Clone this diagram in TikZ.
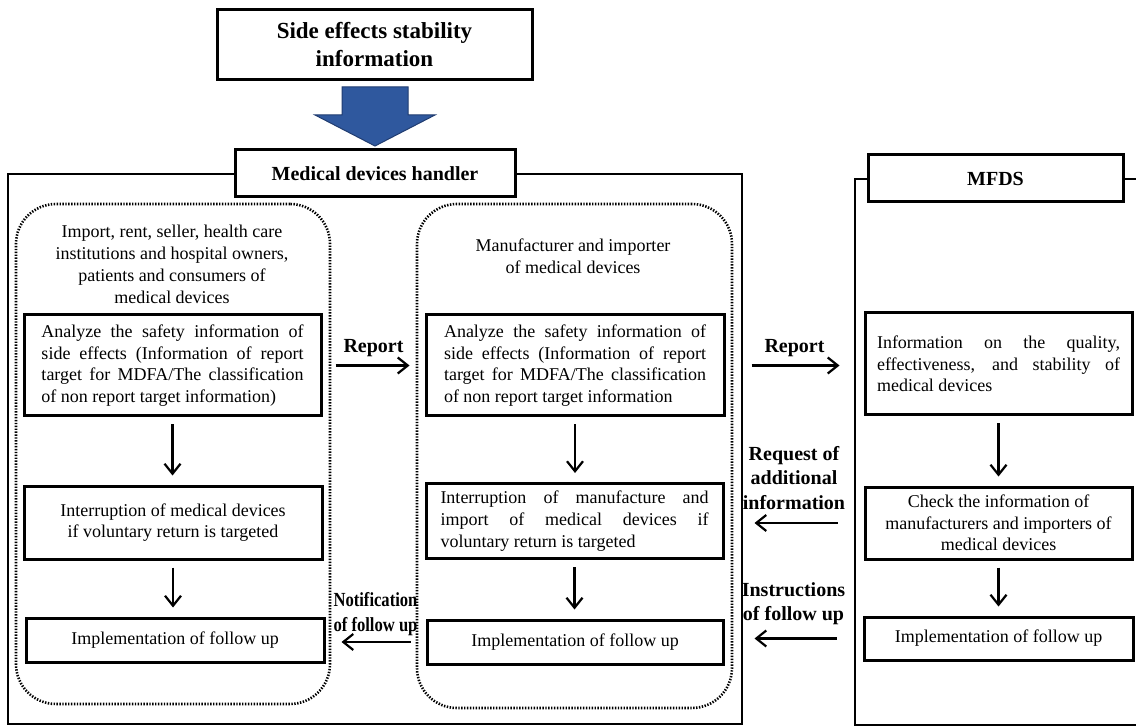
\documentclass[tikz,border=0pt]{standalone}
\usepackage{graphicx}
\usepackage{fontspec}
\setmainfont{Liberation Serif}
\usepackage{tikz}
\usetikzlibrary{arrows.meta}
\usetikzlibrary{calc}
\usetikzlibrary{positioning}
\tolerance=9999
\hyphenpenalty=10000
\exhyphenpenalty=10000
\definecolor{arrowblue}{RGB}{47,88,158}
\definecolor{arrowedge}{RGB}{32,60,112}
\tikzstyle{block} = [draw, line width=3pt, fill=white, rectangle, inner sep=0pt,
    font=\fontsize{18}{21.7}\selectfont]
\tikzstyle{jblock} = [block, align=justify, text width=268pt]
\tikzstyle{cblock} = [block, align=center]
\tikzstyle{head} = [draw, line width=3pt, fill=white, rectangle,
    font=\bfseries\fontsize{20}{24}\selectfont]
\tikzstyle{group} = [draw, line width=2.6pt, dash pattern=on 1.4pt off 1.5pt,
    rounded corners=40pt, rectangle]
\tikzstyle{plain} = [align=center, font=\fontsize{18}{22}\selectfont]
\tikzstyle{lab} = [align=center, font=\bfseries\fontsize{20}{24.5}\selectfont]
\tikzstyle{frame} = [line width=2pt]
\tikzstyle{link} = [->, line width=2.2pt]

\begin{document}
\begin{tikzpicture}[x=1pt, y=-1pt, >={Straight Barb[length=10pt,width=16pt]}]
    \useasboundingbox (0,0) rectangle (1136,727);

    \draw[frame] (8,174) rectangle (742,724);
    \draw[frame] (1146,179) -- (855,179) -- (855,725) -- (1146,725);

    \node[head, minimum width=315pt, minimum height=70pt, align=center,
        font=\bfseries\fontsize{23}{28}\selectfont] at (374.5,45) (info) {Side effects stability\\information};
    \fill[arrowblue, draw=arrowedge, line width=1pt] (342,87) -- (408,87) -- (408,115) -- (435,115)
        -- (375,146) -- (315,115) -- (342,115) -- cycle;
    \node[head, minimum width=280pt, minimum height=47pt] at (375,173.5) (handler) {Medical devices handler};
    \node[head, minimum width=255pt, minimum height=47pt] at (995.5,178.5) (mfds) {MFDS};

    \node[group, minimum width=314pt, minimum height=500pt] at (173,454) (grpuser) {};
    \node[group, minimum width=315pt, minimum height=504pt] at (574.5,456) (grpmaker) {};
    \node[plain] at (172,264) (userhead) {Import, rent, seller, health care\\institutions and hospital owners,\\patients and consumers of\\medical devices};
    \node[plain] at (573,256) (makerhead) {Manufacturer and importer\\of medical devices};

    \node[jblock, text width=262pt, minimum width=297pt, minimum height=101pt] at (172.5,365.5) (userA) {Analyze the safety information of side effects (Information of report target for MDFA/The classification of non report target information)};
    \node[cblock, minimum width=298pt, minimum height=73pt] at (173,522.5) (userB) {Interruption of medical devices\\if voluntary return is targeted};
    \node[block, minimum width=298pt, minimum height=44pt] at (175,640) (userC) {Implementation of follow up};

    \node[jblock, text width=262pt, minimum width=298pt, minimum height=101pt] at (575,365.5) (makerA) {Analyze the safety information of side effects (Information of report target for MDFA/The classification of non report target information};
    \node[jblock, minimum width=297pt, minimum height=75pt] at (574.5,521) (makerB) {Interruption of manufacture and import of medical devices if voluntary return is targeted};
    \node[block, minimum width=296pt, minimum height=44pt] at (575,642) (makerC) {Implementation of follow up};

    \node[jblock, text width=243pt, minimum width=267pt, minimum height=102pt] at (998.5,364) (mfdsA) {Information on the quality, effectiveness, and stability of medical devices};
    \node[cblock, minimum width=267pt, minimum height=72pt] at (998.5,523) (mfdsB) {Check the information of\\manufacturers and importers of\\medical devices};
    \node[block, minimum width=269pt, minimum height=43pt] at (998.5,638.5) (mfdsC) {Implementation of follow up};

    \draw[link, shorten <=7pt, shorten >=9pt] (userA.south) -- (userA.south |- userB.north);
    \draw[link, shorten <=7pt, shorten >=9pt] (userB.south) -- (userB.south |- userC.north);
    \draw[link, shorten <=7pt, shorten >=9pt] (makerA.south) -- (makerA.south |- makerB.north);
    \draw[link, shorten <=7pt, shorten >=9pt] (makerB.south) -- (makerB.south |- makerC.north);
    \draw[link, shorten <=7pt, shorten >=9pt] (mfdsA.south) -- (mfdsA.south |- mfdsB.north);
    \draw[link, shorten <=7pt, shorten >=9pt] (mfdsB.south) -- (mfdsB.south |- mfdsC.north);

    \draw[link, shorten <=13pt, shorten >=15pt] (userA.east) -- node[lab, above=4pt] {Report} (userA.east -| makerA.west);
    \draw[link, shorten <=26pt, shorten >=24pt] (makerA.east) -- node[lab, above=4pt] {Report} (makerA.east -| mfdsA.west);
    \draw[link, shorten <=26pt, shorten >=30pt] (mfdsB.west) -- node[lab, above=9pt] {Request of\\additional\\information} (mfdsB.west -| makerB.east);
    \draw[link, shorten <=26pt, shorten >=30pt] (mfdsC.west) -- node[lab, above=9pt] {Instructions\\of follow up} (mfdsC.west -| makerC.east);
    \draw[link, shorten <=15pt, shorten >=16pt] (makerC.west) -- node[lab, above=2pt] {\scalebox{0.83}[1]{Notification}\\\scalebox{0.83}[1]{of follow up}} (makerC.west -| userC.east);
\end{tikzpicture}
\end{document}
